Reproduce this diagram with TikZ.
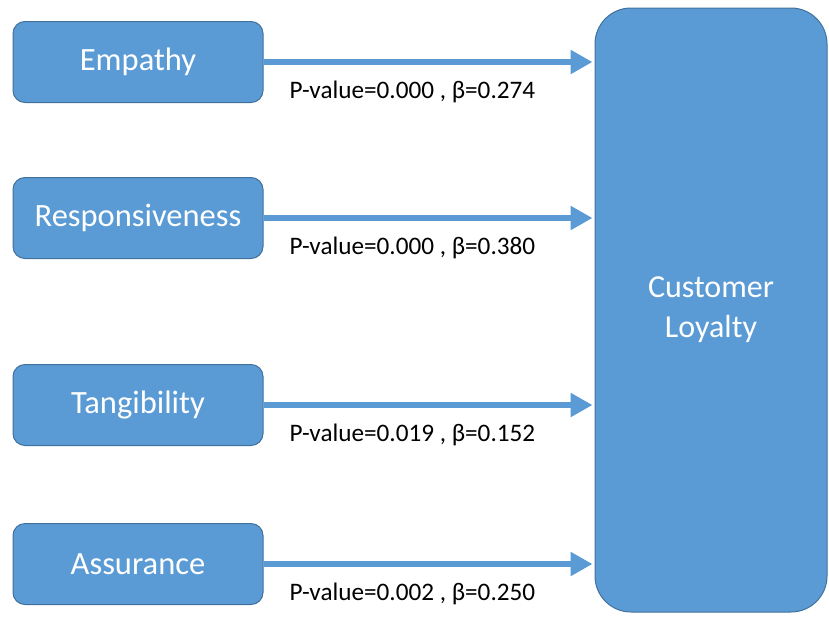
\documentclass[tikz,border=0pt]{standalone}
\usepackage{fontspec}
\setmainfont{Carlito}
\usetikzlibrary{arrows.meta}
\definecolor{boxblue}{HTML}{5B9BD5}
\definecolor{boxline}{HTML}{41719C}

\begin{document}
\begin{tikzpicture}[x=1pt, y=-1pt,
    factor/.style={rectangle, rounded corners=12pt, draw=boxline, line width=1pt, fill=boxblue, text=white, font=\fontsize{32.5}{36}\selectfont, minimum width=250pt, minimum height=81pt, inner sep=0pt},
    target/.style={rectangle, rounded corners=36pt, draw=boxline, line width=1pt, fill=boxblue, text=white, align=center, font=\fontsize{32}{40}\selectfont, minimum width=232pt, minimum height=604pt, inner sep=0pt},
    link/.style={-{Triangle[length=22pt, width=23pt]}, line width=6.5pt, draw=boxblue, shorten >=2pt},
    stat/.style={font=\fontsize{25.2}{28}\selectfont, text=black, pos=0.45, anchor=base, yshift=-36pt},
]
\useasboundingbox (0,0) rectangle (829,616);

% Outcome
\node[target] (loyal) at (711,310) {\rule{0pt}{8pt}Customer\\Loyalty};

% Factors
\node[factor] (emp) at (138,62) {Empathy};
\node[factor] (resp) at (138,218) {Responsiveness};
\node[factor] (tang) at (138,405) {Tangibility};
\node[factor] (assur) at (138,564) {Assurance};

% Paths
\draw[link] (emp.east) -- node[stat] {P-value=0.000 , β=0.274} (emp.east -| loyal.west);
\draw[link] (resp.east) -- node[stat] {P-value=0.000 , β=0.380} (resp.east -| loyal.west);
\draw[link] (tang.east) -- node[stat] {P-value=0.019 , β=0.152} (tang.east -| loyal.west);
\draw[link] (assur.east) -- node[stat] {P-value=0.002 , β=0.250} (assur.east -| loyal.west);
\end{tikzpicture}
\end{document}
